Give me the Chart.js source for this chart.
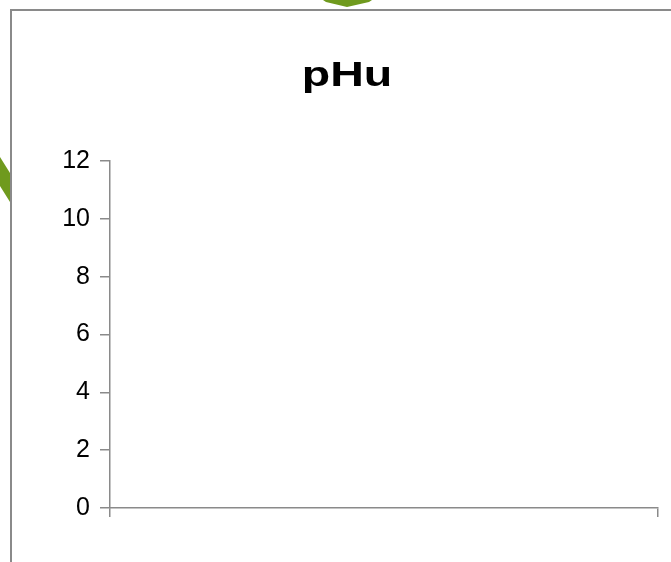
<!DOCTYPE html>
<html>
<head>
<meta charset="utf-8">
<script src="https://cdn.jsdelivr.net/npm/chart.js@4"></script>
<style>
  html, body { margin: 0; padding: 0; background: #fff; overflow: hidden; width: 671px; height: 562px; }
  #frame { position: absolute; left: 10px; top: 9px; width: 680px; height: 560px; border-left: 2px solid #8a8a8a; border-top: 2px solid #8a8a8a; }
  #wrap { position: absolute; left: 11px; top: 10px; width: 675px; height: 552px; }
  #deco { position: absolute; left: 0; top: 0; }
</style>
</head>
<body>
<svg id="deco" width="671" height="562">
  <polygon points="323,0 372,0 369,2 347,7 326,2" fill="#6f9a1e"/>
  <polygon points="0,157 10,173 10,202 0,186" fill="#6f9a1e"/>
</svg>
<div id="frame"></div>
<div id="wrap"><canvas id="c"></canvas></div>
<script>
const categories = [''];
const seriesName = 'pHu';
const seriesValues = [null];
const yTicks = [0, 2, 4, 6, 8, 10, 12];

const gray = '#8a8a8a';
const FONT = 'Liberation Sans, Arial, sans-serif';

// Draw the (layout-reserving) title text slightly widened, as in the reference
const wideTitle = {
  id: 'wideTitle',
  afterDraw(chart) {
    const t = chart.titleBlock;
    if (!t) return;
    const ctx = chart.ctx;
    ctx.save();
    ctx.font = 'bold 35px ' + FONT;
    ctx.fillStyle = '#000';
    ctx.textAlign = 'center';
    ctx.textBaseline = 'alphabetic';
    const cx = chart.width / 2 - 1.5;
    const baseline = (t.top + t.bottom) / 2 + 0.5;
    ctx.translate(cx, baseline);
    ctx.scale(1.33, 1);
    ctx.fillText(chart.options.plugins.title.text, 0, 0);
    ctx.restore();
  }
};

new Chart(document.getElementById('c'), {
  type: 'bar',
  data: {
    labels: categories,
    datasets: [{ label: seriesName, data: seriesValues, backgroundColor: '#4f81bd' }]
  },
  plugins: [wideTitle],
  options: {
    responsive: true,
    maintainAspectRatio: false,
    animation: false,
    layout: { padding: { left: 52, right: 28, bottom: 45, top: 0 } },
    plugins: {
      legend: { display: false },
      tooltip: { enabled: false },
      title: {
        display: true,
        text: seriesName,
        color: 'rgba(0,0,0,0)',
        font: { family: FONT, size: 35, weight: 'bold' },
        padding: { top: 43, bottom: 66 }
      }
    },
    scales: {
      x: {
        type: 'category',
        offset: true,
        grid: { display: true, offset: true, drawOnChartArea: false, tickLength: 9, color: gray, lineWidth: 1.5 },
        border: { display: true, color: gray, width: 1.5 },
        ticks: { display: false }
      },
      y: {
        min: yTicks[0],
        max: yTicks[yTicks.length - 1],
        afterBuildTicks: (scale) => { scale.ticks = yTicks.map(v => ({ value: v })); },
        afterFit: (scale) => { scale.width = 47; },
        grid: { display: true, drawOnChartArea: false, tickLength: 10, color: gray, lineWidth: 1.5 },
        border: { display: true, color: gray, width: 1.5 },
        ticks: {
          color: '#000',
          padding: 10,
          font: { family: FONT, size: 25 }
        }
      }
    }
  }
});
</script>
</body>
</html>
